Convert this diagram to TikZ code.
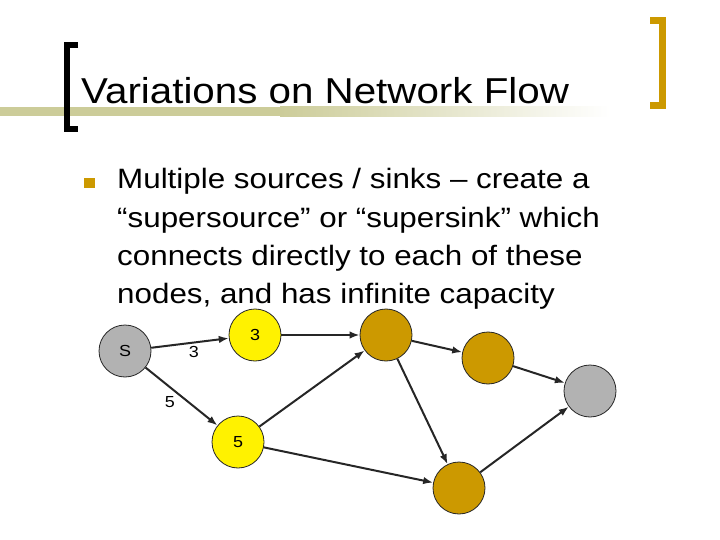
\documentclass[tikz,border=0pt]{standalone}
\usepackage{fontspec}
\usepackage{xcolor}
\usepackage{tikz}
\usetikzlibrary{arrows.meta}
\usetikzlibrary{shapes}

\newfontfamily\slidefont[FakeStretch=1.12]{Liberation Sans}
\definecolor{slidegold}{RGB}{204,153,0}
\definecolor{slidegray}{RGB}{178,178,178}
\definecolor{slideband}{RGB}{204,204,153}
\definecolor{edgeink}{RGB}{38,38,38}

\tikzset{
    vertex/.style = {circle, draw = edgeink, line width = 0.8pt,
        minimum size = 52pt, inner sep = 0pt,
        font = \slidefont\fontsize{16}{16}\selectfont},
    flow/.style = {-{Latex[length = 10pt, width = 7.5pt]}, line width = 2pt,
        draw = edgeink},
    capacity/.style = {font = \slidefont\fontsize{16}{16}\selectfont, inner sep = 1pt},
    bodyline/.style = {anchor = base west, inner sep = 0pt,
        font = \slidefont\fontsize{28}{38}\selectfont}
}

\begin{document}
\begin{tikzpicture}[x = 1pt, y = -1pt]
        \useasboundingbox (0, 0) rectangle (720, 540);

        % title band and brackets
        \fill[slideband] (0, 107) rectangle (280, 116.5);
        \shade[left color = slideband, right color = white] (280, 107) rectangle (610, 116.5);
        \draw[line width = 6pt, line join = miter, line cap = butt] (78, 45) -- (66.5, 45) -- (66.5, 129) -- (78, 129);
        \draw[slidegold, line width = 7pt, line join = miter, line cap = butt] (650, 20.5) -- (662.5, 20.5) -- (662.5, 105.5) -- (650, 105.5);

        \node[anchor = base west, inner sep = 0pt, font = \slidefont\fontsize{36}{36}\selectfont] (title) at (81, 104) {Variations on Network Flow};

        % bullet text
        \fill[slidegold] (84, 178) rectangle (94.5, 188.5);
        \node[bodyline] (line1) at (117, 189) {Multiple sources / sinks – create a};
        \node[bodyline] (line2) at (117, 227) {“supersource” or “supersink” which};
        \node[bodyline] (line3) at (117, 265) {connects directly to each of these};
        \node[bodyline] (line4) at (117, 303) {nodes, and has infinite capacity};

        % network
        \node[vertex, fill = slidegray] (s) at (125, 351) {S};
        \node[vertex, fill = yellow] (a) at (255, 335) {3};
        \node[vertex, fill = yellow] (b) at (238, 442) {5};
        \node[vertex, fill = slidegold] (c) at (386, 335) {};
        \node[vertex, fill = slidegold] (d) at (488, 358) {};
        \node[vertex, fill = slidegold] (e) at (459, 488) {};
        \node[vertex, fill = slidegray] (t) at (590, 391) {};

        \draw[flow] (s) -- node[capacity, below = 2pt, pos = 0.55] {3} (a);
        \draw[flow] (s) -- node[capacity, below left = 1pt, pos = 0.45] {5} (b);
        \draw[flow] (a) -- (c);
        \draw[flow] (b) -- (c);
        \draw[flow] (b) -- (e);
        \draw[flow] (c) -- (d);
        \draw[flow] (c) -- (e);
        \draw[flow] (d) -- (t);
        \draw[flow] (e) -- (t);
    \end{tikzpicture}
\end{document}
